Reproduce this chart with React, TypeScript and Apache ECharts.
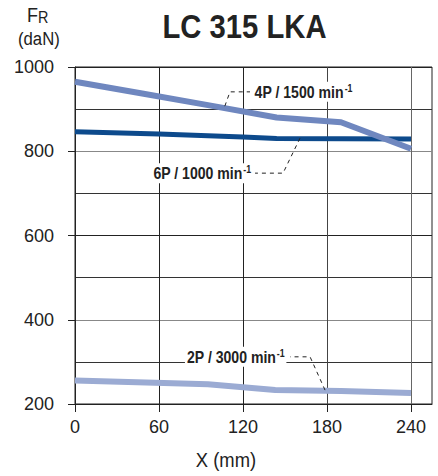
import React, { useEffect, useRef } from "react";
import * as echarts from "echarts";

const FONT = "'Liberation Sans', Arial, sans-serif";

const title = "LC 315 LKA";
const xName = "X (mm)";
const xTicks = [0, 60, 120, 180, 240];

const x4P = [0, 48, 96, 144, 190, 240];
const y4P = [965, 937, 909, 880, 869, 806];
const x6P = [0, 60, 120, 144, 240];
const y6P = [846, 841, 834, 830, 829];
const x2P = [0, 95, 143, 190, 240];
const y2P = [256, 247, 233, 231, 226];

const seriesNames = ["4P / 1500 min", "6P / 1000 min", "2P / 3000 min"];
const seriesColors = ["#6f87bf", "#0d4a8c", "#9babd3"];

const pairs = (xs: number[], ys: number[]) => xs.map((x, i) => [x, ys[i]]);

// annotation leaders in data coordinates
const annotations = [
  { name: seriesNames[0], path: [[107, 907], [110.7, 941], [125, 941]], at: [127, 941], align: "left" },
  { name: seriesNames[1], path: [[160.7, 831], [148.6, 748], [128.6, 748]], at: [127, 748], align: "right" },
  { name: seriesNames[2], path: [[178.6, 233], [167.9, 312], [153.6, 312]], at: [151, 312], align: "right" },
];

export default function App() {
  const ref = useRef<HTMLDivElement>(null);
  useEffect(() => {
    if (!ref.current) return;
    const chart = echarts.init(ref.current, null, { renderer: "svg" });
    const option: any = {
      animation: false,
      backgroundColor: "#fff",
      grid: { left: 75, right: 6, top: 67, bottom: 72, show: true, borderColor: "#222", borderWidth: 1 },
      xAxis: {
        type: "value",
        min: 0,
        max: 255,
        interval: 60,
        axisLine: { show: true, lineStyle: { color: "#222", width: 1 } },
        axisTick: { show: true, length: 8, customValues: xTicks, lineStyle: { color: "#222" } },
        axisLabel: { customValues: xTicks, margin: 14, fontFamily: FONT, fontSize: 18, color: "#222" },
        splitLine: { show: true, lineStyle: { color: ["#222", "#222", "#222", "#444", "#666"], width: 1 } },
      },
      yAxis: {
        type: "value",
        min: 200,
        max: 1000,
        interval: 200,
        axisLine: { show: true, lineStyle: { color: "#222", width: 1 } },
        axisTick: { show: true, length: 7, lineStyle: { color: "#222" } },
        axisLabel: { margin: 21, fontFamily: FONT, fontSize: 18, color: "#222", formatter: (v: number) => String(v) },
        splitLine: { show: true, lineStyle: { color: ["#222", "#888", "#222", "#888", "#222"], width: 1 } },
        minorTick: { show: false, splitNumber: 2 },
        minorSplitLine: { show: true, lineStyle: { color: "#333", width: 1 } },
      },
      series: [
        { name: seriesNames[0], type: "line", data: pairs(x4P, y4P), showSymbol: false, lineStyle: { color: seriesColors[0], width: 6 }, z: 3 },
        { name: seriesNames[1], type: "line", data: pairs(x6P, y6P), showSymbol: false, lineStyle: { color: seriesColors[1], width: 5 }, z: 2 },
        { name: seriesNames[2], type: "line", data: pairs(x2P, y2P), showSymbol: false, lineStyle: { color: seriesColors[2], width: 6 }, z: 2 },
      ],
    };
    chart.setOption(option);

    const toPx = (p: number[]) => chart.convertToPixel({ gridIndex: 0 }, p) as number[];
    const graphics: any[] = [
      {
        type: "text",
        x: 244.5,
        y: 26,
        scaleX: 0.86,
        style: {
          text: title,
          align: "center",
          verticalAlign: "middle",
          fontFamily: FONT,
          fontWeight: "bold",
          fontSize: 34,
          fill: "#222",
        },
      },
      {
        type: "text",
        x: 226,
        y: 460,
        scaleX: 0.92,
        style: { text: xName, align: "center", verticalAlign: "middle", fontFamily: FONT, fontSize: 20, fill: "#222" },
      },
      {
        type: "text",
        x: 27,
        y: 5,
        scaleX: 0.9,
        style: {
          text: "{f|F}{r|R}",
          rich: {
            f: { fontFamily: FONT, fontSize: 20, fill: "#222", verticalAlign: "bottom" },
            r: { fontFamily: FONT, fontSize: 16, fill: "#222", verticalAlign: "bottom" },
          },
        },
      },
      {
        type: "text",
        x: 18,
        y: 29,
        scaleX: 0.88,
        style: { text: "(daN)", fontFamily: FONT, fontSize: 19, fill: "#222" },
      },
    ];
    annotations.forEach((a) => {
      graphics.push({
        type: "polyline",
        shape: { points: a.path.map(toPx) },
        style: { stroke: "#222", lineWidth: 1, lineDash: [4, 4], fill: null },
        z: 10,
      });
      const [tx, ty] = toPx(a.at);
      graphics.push({
        type: "text",
        x: tx,
        y: ty,
        z: 11,
        scaleX: 0.88,
        style: {
          text: `{m|${a.name}}{s|-1}`,
          align: a.align,
          verticalAlign: "middle",
          backgroundColor: "#fff",
          padding: [1, 2],
          rich: {
            m: { fontFamily: FONT, fontWeight: "bold", fontSize: 16, fill: "#222", lineHeight: 18 },
            s: { fontFamily: FONT, fontWeight: "bold", fontSize: 10, fill: "#222", verticalAlign: "top", padding: [0, 0, 7, 1] },
          },
        },
      });
    });
    chart.setOption({ graphic: graphics });
    return () => chart.dispose();
  }, []);
  return (
    <div
      ref={ref}
      style={{ position: "fixed", left: 0, top: 0, width: 438, height: 476, background: "#fff" }}
    />
  );
}
